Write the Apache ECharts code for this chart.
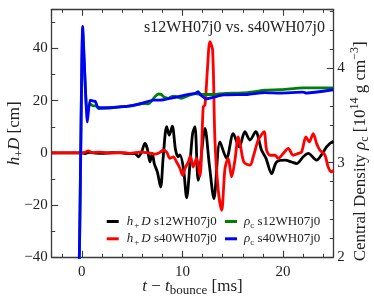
<!DOCTYPE html>
<html><head><meta charset="utf-8">
<script src="https://cdn.jsdelivr.net/npm/echarts/dist/echarts.min.js"></script>
<style>html,body{margin:0;padding:0;background:#fff}#c{width:374px;height:299px}</style>
</head><body><div id="c"></div><script>
// ---- data (t [ms], value) ----
const hD_s12 = [[-3,0],[-1,0],[0,0],[0.3,-0.3],[0.7,0.2],[1.2,0],[2,-0.2],[3,0.1],[4,0],[4.7,-0.3],[5.28,-0.2],[5.61,-1.5],[5.94,0.4],[6.27,3.6],[6.5,1.7],[6.77,-3.5],[7.0,-0.2],[7.2,-4.1],[7.51,-7.4],[7.83,-13.1],[8.09,-1.5],[8.43,10.0],[8.69,6.8],[8.99,10.2],[9.32,1.0],[9.58,-1.5],[9.75,-0.8],[10.1,-6],[10.42,-17.2],[10.75,-4.1],[11.01,7.4],[11.24,10.0],[11.57,-10.5],[12.24,9.4],[12.68,-4.7],[13.13,-17.5],[13.73,4.2],[14.39,-2.1],[15.05,7.4],[15.65,2.3],[16.21,8.1],[16.71,4.9],[17.28,8.1],[17.87,1.0],[18.3,-2.0],[18.87,-7.9],[19.36,-3.5],[20.19,-2.8],[20.86,-3.5],[21.35,-4.1],[22.01,-1.5],[22.51,-0.2],[23.34,-2.8],[23.87,-0.5],[24.33,2.3],[24.66,3.6],[25.0,4.5]];
const hD_s40 = [[-3,0],[-1,0],[0,0],[0.3,0.2],[0.64,0.8],[1.0,0.1],[1.8,0.3],[2.8,-0.1],[3.8,0.1],[4.8,-0.2],[5.8,0.3],[6.8,-0.1],[7.27,-0.5],[7.77,0.2],[8.09,1.0],[8.43,0.3],[8.76,-2.1],[9.09,-1.5],[9.42,-3.5],[9.75,-5.9],[10.02,-8.6],[10.25,-6.0],[10.58,-3.5],[10.8,-1.3],[11.07,-5.4],[11.41,-2.0],[11.74,-9.0],[12.07,17.7],[12.24,18.3],[12.48,31.7],[12.73,42.6],[13.0,39.4],[13.23,4.9],[13.56,-14.3],[13.9,-22.0],[14.23,-6.0],[14.55,-2.1],[14.89,-9.2],[15.22,-2.8],[15.55,6.1],[15.79,2.3],[16.11,-3.5],[16.71,-4.7],[17.04,-1.5],[17.53,4.9],[17.9,7.2],[18.13,8.1],[18.37,1.0],[18.7,-0.9],[19.2,-0.9],[19.52,-2.1],[20.02,-0.2],[20.52,1.7],[21.01,-0.9],[21.51,-0.2],[21.85,0.4],[22.28,6.1],[22.61,4.2],[23.0,7.4],[23.34,3.6],[23.67,1.0],[24.17,-0.9],[24.49,-5.4],[24.83,-7.3],[25.0,-6.6]];
const rho_s12 = [[-3,0.8],[-0.6,1.5],[-0.25,2.0],[0.08,4.40],[0.5,3.55],[0.8,3.62],[1.1,3.6],[1.4,3.6],[1.7,3.57],[2.5,3.575],[3.8,3.59],[5.0,3.6],[6.0,3.625],[6.6,3.62],[7.0,3.66],[7.3,3.70],[7.6,3.725],[7.9,3.72],[8.2,3.69],[8.6,3.68],[9.0,3.70],[9.3,3.70],[9.9,3.68],[10.4,3.70],[10.75,3.715],[11.2,3.73],[12.0,3.72],[13.06,3.72],[14.05,3.73],[16.5,3.74],[18.2,3.765],[19.68,3.77],[22.0,3.79],[25.0,3.79]];
const rho_s40 = [[-3,0.8],[-0.6,1.5],[-0.26,2.0],[0.08,4.44],[0.54,3.43],[0.81,3.66],[1.13,3.65],[1.35,3.645],[1.63,3.58],[2.79,3.58],[3.79,3.59],[4.45,3.595],[5.78,3.62],[7.1,3.66],[7.76,3.66],[9.3,3.69],[10.75,3.725],[11.24,3.73],[11.57,3.75],[11.8,3.715],[12.41,3.674],[13.06,3.69],[14.05,3.715],[16.5,3.72],[18.2,3.74],[19.68,3.735],[22.01,3.745],[22.34,3.735],[25,3.77]];
const seriesNames = ['h12','h40','r12','r40'];
const legendLabels = {
  h12:'{i|h}{sbp|+}{i|D} s12WH07j0',
  h40:'{i|h}{sbp|+}{i|D} s40WH07j0',
  r12:'{i|ρ}{sb|c} s12WH07j0',
  r40:'{i|ρ}{sb|c} s40WH07j0'
};
const titleText = 's12WH07j0 vs. s40WH07j0';
const xName = '{i|t} − {i|t}{sbx|bounce} [ms]';
const yLeftName = '{i|h}{sb|+}{i|D} [cm]';
const yRightName = 'Central Density {i|ρ}{sb|c} [10{sp|14} g cm{sp|−3}]';

// ---- style ----
const FONT = 'Liberation Serif';
const INK = '#222';
const FRAME = '#3a3a3a';
function rich(size, lh) {
  const s = Math.round(size * 0.72), sl = Math.round(size * 0.8);
  return {
    i: {fontFamily: FONT, fontSize: size, fontStyle: 'italic', lineHeight: lh, color: INK},
    sb: {fontFamily: FONT, fontSize: s, lineHeight: sl, verticalAlign: 'bottom', color: INK},
    sbp: {fontFamily: FONT, fontSize: s, lineHeight: sl, verticalAlign: 'bottom', color: INK, padding: [0, 2, 0, 1]},
    sbx: {fontFamily: FONT, fontSize: 13, lineHeight: 15, verticalAlign: 'bottom', color: INK},
    sp: {fontFamily: FONT, fontSize: s, lineHeight: sl, verticalAlign: 'top', color: INK}
  };
}
const axLine = {show: true, onZero: false, lineStyle: {color: FRAME, width: 1.3}};
const tick = {show: true, inside: true, length: 6.5, lineStyle: {color: FRAME, width: 1.1}};
function minor(n) { return {show: true, splitNumber: n, length: 3.5, lineStyle: {color: FRAME, width: 1}}; }
const lbl = {fontFamily: FONT, fontSize: 15, color: INK};
const nameStyle = {fontFamily: FONT, fontSize: 17, color: INK, lineHeight: 22, rich: rich(17, 22)};
const legendText = {fontFamily: FONT, fontSize: 13, color: INK, lineHeight: 17, rich: rich(13, 17)};

const chart = echarts.init(document.getElementById('c'), null, {renderer: 'canvas'});
const colors = {h12: '#000000', h40: '#ff0000', r12: '#008000', r40: '#0000ff'};
const dataMap = {h12: hD_s12, h40: hD_s40, r12: rho_s12, r40: rho_s40};

chart.setOption({
  animation: false,
  backgroundColor: '#fff',
  title: {text: titleText, right: 49, top: 20, padding: 0,
    textStyle: {fontFamily: FONT, fontSize: 16, fontWeight: 'normal', color: INK, lineHeight: 16}},
  grid: {left: 51.7, right: 40.7, top: 9.3, bottom: 41.7, containLabel: false, outerBoundsMode: 'none'},
  legend: [
    {data: ['h12', 'h40'], orient: 'vertical', left: 106.7, top: 213, padding: 0, itemGap: 0.3,
     itemWidth: 12, itemHeight: 3, icon: 'rect', formatter: n => legendLabels[n],
     textStyle: Object.assign({padding: [0, 0, 0, 3]}, legendText)},
    {data: ['r12', 'r40'], orient: 'vertical', left: 225, top: 213, padding: 0, itemGap: 0.3,
     itemWidth: 12, itemHeight: 3, icon: 'rect', formatter: n => legendLabels[n],
     textStyle: Object.assign({padding: [0, 0, 0, 2]}, legendText)}
  ],
  xAxis: [
    {type: 'value', position: 'bottom', min: -3, max: 25, splitNumber: 3,
     axisLine: axLine, axisTick: tick, minorTick: minor(5), splitLine: {show: false},
     axisLabel: Object.assign({margin: 7, showMinLabel: false, showMaxLabel: false}, lbl),
     name: xName, nameLocation: 'middle', nameGap: 18, nameMoveOverlap: false, nameTextStyle: nameStyle},
    {type: 'value', position: 'top', min: -3, max: 25, splitNumber: 3,
     axisLine: axLine, axisTick: tick, minorTick: minor(5), splitLine: {show: false},
     axisLabel: {show: false}}
  ],
  yAxis: [
    {type: 'value', position: 'left', min: -40, max: 55, interval: 20,
     axisLine: axLine, axisTick: tick, minorTick: minor(2), splitLine: {show: false},
     axisLabel: Object.assign({margin: 4, showMaxLabel: false, formatter: v => String(v).replace('-', '−')}, lbl),
     name: yLeftName, nameLocation: 'middle', nameRotate: 90, nameGap: 26, nameMoveOverlap: false, nameTextStyle: nameStyle},
    {type: 'value', position: 'right', min: 2, max: 4.62, interval: 1,
     axisLine: axLine, axisTick: tick, minorTick: minor(5), splitLine: {show: false},
     axisLabel: Object.assign({margin: 4, showMaxLabel: false, formatter: v => String(Math.round(v))}, lbl),
     name: yRightName, nameLocation: 'middle', nameRotate: 90, nameGap: 16, nameMoveOverlap: false,
     nameTextStyle: Object.assign({}, nameStyle, {padding: [0, 36, 0, 0]})}
  ],
  series: seriesNames.map(n => ({
    name: n, type: 'line', xAxisIndex: 0, yAxisIndex: n[0] === 'h' ? 0 : 1,
    data: dataMap[n], showSymbol: false, symbol: 'none', clip: true,
    smooth: n[0] === 'h' ? 0.3 : 0.15,
    color: colors[n],
    lineStyle: {color: colors[n], width: n[0] === 'h' ? 2.8 : 2.8}
  }))
});
</script></body></html>
